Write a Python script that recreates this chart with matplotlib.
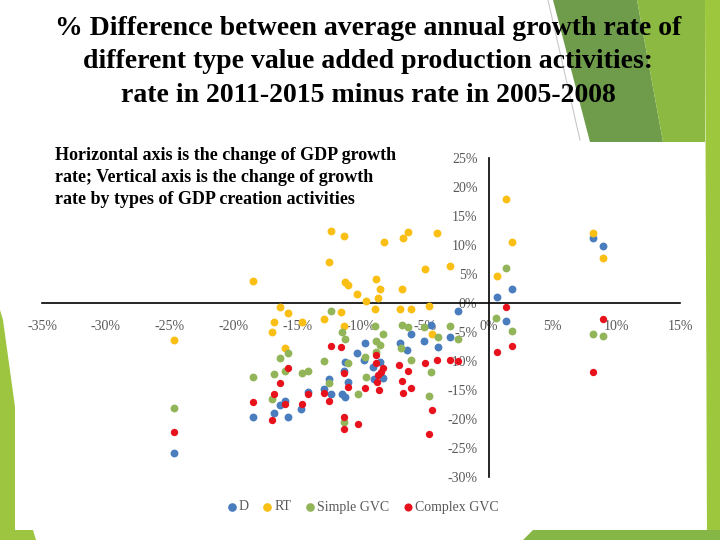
import matplotlib
matplotlib.use("Agg")
import matplotlib.pyplot as plt
from matplotlib.patches import Polygon
from matplotlib.ticker import PercentFormatter, MultipleLocator

plt.rcParams['font.family'] = ['Liberation Serif', 'DejaVu Serif']
plt.rcParams['axes.unicode_minus'] = False

# change of GDP growth rate (%) vs change of growth rate by activity type (%)
d_x = [-24.65, -18.45, -16.8, -16.33, -15.93, -15.7, -14.68, -14.13, -12.87, -12.48,
       -12.32, -11.46, -11.22, -11.3, -11.22, -10.99, -10.28, -9.65, -9.73, -9.03,
       -8.48, -8.95, -8.24, -6.91, -6.36, -6.12, -5.1, -4.55, -4.0, -3.06,
       -2.43, 0.63, 1.81, 1.33, 8.16, 8.95]
d_y = [-25.86, -19.66, -18.97, -17.59, -16.9, -19.66, -18.28, -15.34, -14.83, -13.1,
       -15.69, -15.69, -16.21, -11.72, -10.17, -13.62, -8.62, -6.9, -9.83, -11.03,
       -10.17, -13.1, -12.93, -6.9, -8.1, -5.34, -6.55, -3.79, -7.59, -5.86,
       -1.38, 1.03, 2.41, -3.1, 11.2, 9.83]

rt_x = [-24.65, -18.45, -16.95, -16.8, -16.33, -15.93, -15.7, -14.6, -12.87, -12.48,
        -12.32, -11.54, -11.3, -11.3, -11.22, -10.99, -10.28, -9.58, -8.87, -8.79,
        -8.63, -8.48, -8.16, -6.91, -6.75, -6.67, -6.28, -6.12, -5.02, -4.71,
        -4.47, -4.08, -3.06, 0.63, 1.33, 1.81, 8.16, 8.95]
rt_y = [-6.38, 3.79, -5.0, -3.28, -0.69, -7.76, -1.72, -3.28, -2.76, 7.07,
        12.41, -1.55, 11.55, -3.97, 3.62, 3.1, 1.55, 0.34, -1.03, 4.14,
        0.86, 2.41, 10.52, -1.03, 2.41, 11.2, 12.24, -1.03, 5.86, -0.52,
        -5.34, 12.07, 6.38, 4.66, 17.93, 10.52, 12.07, 7.76]

sg_x = [-24.65, -18.45, -16.95, -16.8, -16.33, -15.93, -15.7, -14.6, -14.13, -12.87,
        -12.48, -12.32, -11.46, -11.22, -10.99, -11.3, -10.2, -9.65, -9.58, -8.87,
        -8.79, -8.48, -8.24, -8.79, -6.75, -6.28, -6.83, -6.12, -5.1, -4.55,
        -4.71, -4.0, -3.06, -2.43, 0.55, 1.33, 1.81, 8.16, 8.95]
sg_y = [-18.1, -12.76, -16.55, -12.24, -9.48, -11.72, -8.62, -12.07, -11.72, -10.0,
        -13.79, -1.38, -5.0, -6.21, -10.34, -20.52, -15.69, -9.31, -12.76, -3.97,
        -6.55, -7.24, -5.34, -8.45, -3.79, -4.14, -7.76, -9.83, -4.14, -11.9,
        -16.03, -5.86, -3.97, -6.21, -2.59, 6.03, -4.83, -5.34, -5.69]

cg_x = [-24.65, -18.45, -16.95, -16.8, -16.33, -15.93, -15.7, -14.6, -14.13, -12.87,
        -12.48, -12.32, -11.54, -11.3, -10.99, -11.3, -11.3, -10.2, -9.65, -8.79,
        -8.79, -8.63, -8.4, -8.24, -8.56, -8.71, -6.99, -6.28, -6.75, -6.12,
        -6.67, -5.02, -4.08, -3.06, -2.43, -4.47, -4.71, 0.63, 1.81, 1.33,
        8.16, 8.95]
cg_y = [-22.24, -17.07, -20.17, -15.69, -13.79, -17.41, -11.21, -17.41, -15.69, -15.52,
        -16.9, -7.41, -7.59, -12.07, -14.48, -19.66, -21.72, -20.86, -14.66, -8.97,
        -10.34, -12.41, -11.9, -11.21, -15.0, -13.62, -10.69, -11.72, -13.45, -14.66,
        -15.52, -10.34, -9.83, -9.83, -10.0, -18.45, -22.59, -8.45, -7.41, -0.69,
        -11.9, -2.76]

series = [
    ("D", d_x, d_y, "#4A7DBE", 32),
    ("RT", rt_x, rt_y, "#F9BF14", 32),
    ("Simple GVC", sg_x, sg_y, "#93B55A", 32),
    ("Complex GVC", cg_x, cg_y, "#E8121D", 28),
]

fig = plt.figure(figsize=(7.2, 5.4), dpi=100)

# slide decoration in pixel coordinates
bg = fig.add_axes([0, 0, 1, 1], zorder=0)
bg.set_xlim(0, 720)
bg.set_ylim(540, 0)
bg.axis("off")
shapes = [
    ([(553, 0), (637, 0), (663, 142), (590, 142)], "#6F9C4B"),
    ([(637, 0), (705, 0), (705, 142), (663, 142)], "#8CB941"),
    ([(705, 0), (720, 0), (720, 540), (707, 540)], "#9DC83E"),
    ([(523, 540), (533, 530), (720, 530), (720, 540)], "#86B746"),
    ([(0, 310), (3, 320), (15, 407), (15, 530), (33, 530), (36, 540), (0, 540)], "#9DC540"),
]
for pts, col in shapes:
    bg.add_patch(Polygon(pts, closed=True, color=col, lw=0))
bg.plot([548, 580], [0, 140], color="#C8C8C8", lw=0.8)

fig.text(0.511, 1 - 62 / 540,
         "% Difference between average annual growth rate of\n"
         "different type value added production activities:\n"
         "rate in 2011-2015 minus rate in 2005-2008",
         ha="center", va="center", fontsize=20, fontweight="bold",
         linespacing=1.45, color="black")

fig.text(55 / 720, 1 - 147 / 540,
         "Horizontal axis is the change of GDP growth\n"
         "rate; Vertical axis is the change of growth\n"
         "rate by types of GDP creation activities",
         ha="left", va="top", fontsize=13, fontweight="bold",
         linespacing=1.38, color="black")

ax = fig.add_axes([42 / 720, 1 - 477 / 540, 638 / 720, 319 / 540], zorder=1)
ax.set_facecolor("none")
for name, xs, ys, col, s in series:
    ax.scatter(xs, ys, s=s, color=col, label=name, linewidths=0, zorder=3)

ax.set_xlim(-35, 15)
ax.set_ylim(-30, 25)
ax.xaxis.set_major_locator(MultipleLocator(5))
ax.yaxis.set_major_locator(MultipleLocator(5))
ax.xaxis.set_major_formatter(PercentFormatter(decimals=0))
ax.yaxis.set_major_formatter(PercentFormatter(decimals=0))
ax.spines["left"].set_position(("data", 0))
ax.spines["bottom"].set_position(("data", 0))
ax.spines["top"].set_visible(False)
ax.spines["right"].set_visible(False)
ax.spines["left"].set_linewidth(1.2)
ax.spines["bottom"].set_linewidth(1.2)
ax.tick_params(axis="both", length=0, labelsize=10, labelcolor="#595959")
ax.tick_params(axis="x", pad=12)
ax.tick_params(axis="y", pad=8)

fig.legend(loc="center", bbox_to_anchor=(362 / 720, 1 - 507 / 540), ncol=4,
           frameon=False, fontsize=10, handletextpad=0.05, columnspacing=0.9,
           handlelength=0.9, markerscale=1.1, labelcolor="#595959")

fig.savefig("out.png", dpi=100)
